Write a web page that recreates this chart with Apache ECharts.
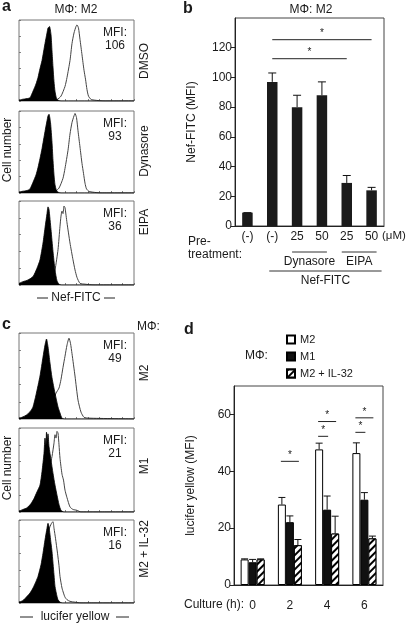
<!DOCTYPE html>
<html><head><meta charset="utf-8">
<script src="https://cdn.jsdelivr.net/npm/echarts@6/dist/echarts.min.js"></script>
<style>html,body{margin:0;padding:0;background:#fff}#c{width:408px;height:625px}</style>
</head><body><div id="c"></div>
<script>
// ===== Panel a: Nef-FITC histograms (x = channel 0-115, y = % of max) =====
const aLabels = ['DMSO', 'Dynasore', 'EIPA'];
const aMFI = ['106', '93', '36'];
const aFill1 = [[0,1],[3,2],[8,3],[11,4],[14,12],[17,21],[19,29],[21,40],[23,50],[26,71],[28,84],[29,90],[30.5,92],[32,82],[33,62],[34,42],[35,24],[36,12],[37.5,3],[39,1],[42,0],[115,0]];
const aOpen1 = [[30,2],[38,2],[42,6],[46,18],[48,29],[51,50],[53,71],[55,84],[57,92],[58,94],[59.5,90],[61,76],[63,57],[65,38],[66.5,27],[68,14],[69.5,6],[72,2],[76,1],[85,0],[115,0]];
const aFill2 = [[0,1],[3,2],[8,3],[11,5],[14,13],[17,22],[19,31],[21,42],[23,54],[26,75],[28,88],[29,94],[30,96],[31.5,86],[33,62],[34,40],[35,22],[36,10],[37.5,3],[39,1],[42,0],[115,0]];
const aOpen2 = [[30,2],[36,2],[40,6],[44,18],[46,30],[49,52],[51,72],[53,86],[55,94],[56,97],[57.5,92],[59,76],[61,56],[63,36],[64.5,24],[66,12],[67.5,5],[70,2],[74,1],[82,0],[115,0]];
const aFill3 = [[0,2],[4,4],[9,6],[14,10],[18,20],[21,30],[24,50],[26,68],[28,85],[29,93],[30,90],[32,66],[34,40],[36,18],[38,5],[40,1],[43,0],[115,0]];
const aOpen3 = [[30,2],[33,6],[36,18],[39,42],[41,70],[42,82],[43,88],[44,85],[45,94],[46,92],[48,74],[51,50],[54,30],[56,18],[58,9],[61,2],[66,1],[75,0],[115,0]];

// ===== Panel b: Nef-FITC uptake (MFI) =====
const bCategories = ['(-)', '(-)', '25', '50', '25', '50'];
const bValues = [9, 97, 80, 88, 29, 24];
const bErrTop = [9, 103, 88, 97, 34, 26];
const bTicks = [0, 20, 40, 60, 80, 100, 120];
const bSig = [[1, 5, 125.4], [1, 4, 112.6]];            // [fromCat, toCat, y]
const bGroups = [[2, 3, 'Dynasore', 1], [4, 5, 'EIPA', 1], [1, 5, 'Nef-FITC', 2]]; // [fromCat, toCat, label, level]

// ===== Panel c: lucifer yellow histograms =====
const cLabels = ['M2', 'M1', 'M2 + IL-32'];
const cMFI = ['49', '21', '16'];
const cFill1 = [[0,1],[3,2],[8,5],[12,10],[14,14],[17,28],[21,50],[24,72],[26,86],[27.5,93],[29,84],[31,65],[33,48],[36,30],[39,14],[41,7],[43,1],[46,0],[115,0]];
const cOpen1 = [[30,2],[34,20],[37,30],[40,36],[42,46],[44,60],[46,73],[48,86],[50,94],[51.5,88],[53,76],[56,50],[59,22],[62,8],[65,2],[70,1],[115,0]];
const cFill2 = [[0,1],[4,3],[8,5],[12,10],[15,16],[18,24],[21,32],[23,48],[25,70],[26,88],[27,80],[27.5,95],[28.5,85],[29,93],[30,78],[32,62],[34,46],[36,32],[38,20],[40,9],[42,2],[45,0],[115,0]];
const cOpen2 = [[28,40],[31,55],[33,66],[35,82],[36,92],[37,88],[38,96],[39,94],[40,80],[41,64],[43,45],[44.5,38],[46,26],[48,17],[51,6],[54,3],[58,2],[62,0],[115,0]];
const cFill3 = [[0,1],[4,3],[8,8],[11,12],[14,18],[17,26],[19,32],[22,46],[24,60],[26,76],[28,90],[29,96],[30,92],[32,72],[33,62],[35,34],[36,20],[38,8],[39,4],[41,1],[44,0],[115,0]];
const cOpen3 = [[26,60],[29,85],[31,92],[32.5,96],[34,98],[35,90],[36.5,78],[38.5,60],[40,45],[41,32],[43,18],[44.5,12],[46,7],[48,4],[51,2],[56,1],[62,0],[115,0]];

// ===== Panel d: lucifer yellow (MFI) vs culture time =====
const dCategories = ['0', '2', '4', '6'];
const dSeriesNames = ['M2', 'M1', 'M2 + IL-32'];
const dM2 = [9, 28.3, 47.7, 46.4];
const dM2Err = [9.2, 30.8, 49.9, 50];
const dM1 = [8, 22.1, 26.5, 30];
const dM1Err = [9, 24.3, 31.3, 32.5];
const dIL = [9, 14, 18.1, 16.4];
const dILErr = [9.2, 16, 24.2, 17.2];
const dTicks = [0, 20, 40, 60];
const dSig = [[1, 0, 2, 43.5], [2, 0, 1, 52.3], [2, 0, 2, 57.5], [3, 0, 1, 53.7], [3, 0, 2, 58.8]]; // [group, fromSeries, toSeries, y]

// ================= rendering =================
const FONT = '"Liberation Sans", Arial, Helvetica, sans-serif';
const TXT = '#1a1a1a';
const chart = echarts.init(document.getElementById('c'), null, {renderer: 'canvas'});

const histPanels = [
  {top: 20, h: 81, fill: aFill1, open: aOpen1},
  {top: 111, h: 82, fill: aFill2, open: aOpen2},
  {top: 201, h: 84, fill: aFill3, open: aOpen3},
  {top: 333, h: 86, fill: cFill1, open: cOpen1},
  {top: 428, h: 84, fill: cFill2, open: cOpen2},
  {top: 520, h: 83, fill: cFill3, open: cOpen3}
];
const HL = 19, HW = 115;

const grids = [], xAxes = [], yAxes = [], series = [], graphics = [];

histPanels.forEach((p, i) => {
  grids.push({left: HL, top: p.top, width: HW, height: p.h, show: true, borderColor: '#777', borderWidth: 1, backgroundColor: '#fff'});
  xAxes.push({gridIndex: i, type: 'value', min: 0, max: 115, interval: 11.5,
    axisLine: {show: false}, axisTick: {show: true, inside: true, length: 2, lineStyle: {color: '#666', width: 0.8}},
    axisLabel: {show: false}, splitLine: {show: false}});
  yAxes.push({gridIndex: i, type: 'value', min: 0, max: 100, interval: 20,
    axisLine: {show: false}, axisTick: {show: true, inside: true, length: 2, lineStyle: {color: '#666', width: 0.8}},
    axisLabel: {show: false}, splitLine: {show: false}});
  series.push({type: 'line', xAxisIndex: i, yAxisIndex: i, data: p.open, symbol: 'none', smooth: 0.2,
    lineStyle: {color: '#444', width: 1}, silent: true, z: 2});
  series.push({type: 'line', xAxisIndex: i, yAxisIndex: i, data: p.fill, symbol: 'none', smooth: 0.2,
    lineStyle: {color: '#000', width: 0.8}, areaStyle: {color: '#000', opacity: 1}, silent: true, z: 3});
});

// ---- panel b grid (index 6)
grids.push({left: 235, top: 18, width: 149, height: 208, show: true, borderColor: '#444', borderWidth: 1});
xAxes.push({gridIndex: 6, type: 'category', data: bCategories,
  axisLine: {show: true, lineStyle: {color: '#222', width: 1}}, axisTick: {show: false},
  axisLabel: {fontSize: 12, fontFamily: FONT, color: TXT, margin: 5}});
yAxes.push({gridIndex: 6, type: 'value', min: 0, max: 140, interval: 20,
  name: 'Nef-FITC (MFI)', nameLocation: 'middle', nameGap: 37, nameTextStyle: {fontSize: 12, fontFamily: FONT, color: TXT},
  axisLine: {show: true, lineStyle: {color: '#222', width: 1}},
  axisTick: {show: true, length: 4, customValues: bTicks, lineStyle: {color: '#222'}},
  axisLabel: {fontSize: 12, fontFamily: FONT, color: TXT, margin: 3, customValues: bTicks,
    formatter: v => (bTicks.indexOf(v) >= 0 ? String(v) : '')},
  splitLine: {show: false}});

// ---- panel d grid (index 7)
grids.push({left: 234, top: 386, width: 149, height: 199, show: true, borderColor: '#444', borderWidth: 1});
xAxes.push({gridIndex: 7, type: 'category', data: dCategories,
  axisLine: {show: true, lineStyle: {color: '#222', width: 1}}, axisTick: {show: false},
  axisLabel: {fontSize: 12, fontFamily: FONT, color: TXT, margin: 15}});
yAxes.push({gridIndex: 7, type: 'value', min: 0, max: 70, interval: 10,
  name: 'lucifer yellow (MFI)', nameLocation: 'middle', nameGap: 37, nameTextStyle: {fontSize: 12, fontFamily: FONT, color: TXT},
  axisLine: {show: true, lineStyle: {color: '#222', width: 1}},
  axisTick: {show: true, length: 4, customValues: dTicks, lineStyle: {color: '#222'}},
  axisLabel: {fontSize: 12, fontFamily: FONT, color: TXT, margin: 3, customValues: dTicks,
    formatter: v => (dTicks.indexOf(v) >= 0 ? String(v) : '')},
  splitLine: {show: false}});

// ---- panel b series
series.push({type: 'bar', xAxisIndex: 6, yAxisIndex: 6, data: bValues, barWidth: 10.5,
  itemStyle: {color: '#1b1b1b'}, silent: true, z: 2});
series.push({type: 'custom', xAxisIndex: 6, yAxisIndex: 6, silent: true, z: 3,
  data: bValues.map((v, i) => [i, v, bErrTop[i]]),
  renderItem: (params, api) => {
    const b = api.coord([api.value(0), api.value(1)]);
    const t = api.coord([api.value(0), api.value(2)]);
    return {type: 'group', children: [
      {type: 'line', shape: {x1: b[0], y1: b[1], x2: t[0], y2: t[1]}, style: {stroke: '#111', lineWidth: 1}},
      {type: 'line', shape: {x1: t[0] - 4, y1: t[1], x2: t[0] + 4, y2: t[1]}, style: {stroke: '#111', lineWidth: 1}}
    ]};
  }});
series.push({type: 'custom', xAxisIndex: 6, yAxisIndex: 6, silent: true, z: 3, data: bSig,
  renderItem: (params, api) => {
    const p1 = api.coord([api.value(0), api.value(2)]);
    const p2 = api.coord([api.value(1), api.value(2)]);
    return {type: 'group', children: [
      {type: 'line', shape: {x1: p1[0], y1: p1[1], x2: p2[0], y2: p2[1]}, style: {stroke: '#222', lineWidth: 1}},
      {type: 'text', x: (p1[0] + p2[0]) / 2, y: p1[1] - 1, style: {text: '*', fontSize: 10, fontFamily: FONT, fill: TXT, align: 'center', verticalAlign: 'bottom'}}
    ]};
  }});
series.push({type: 'custom', xAxisIndex: 6, yAxisIndex: 6, silent: true, z: 3, clip: false,
  data: bGroups,
  renderItem: (params, api) => {
    const item = bGroups[params.dataIndex];
    const p1 = api.coord([item[0], 0]);
    const p2 = api.coord([item[1], 0]);
    const lvl = item[3];
    const y = p1[1] + (lvl === 1 ? 26 : 45);
    const x1 = p1[0] - (lvl === 1 ? 5 : 3);
    const x2 = p2[0] + (lvl === 1 ? 5 : 10);
    return {type: 'group', children: [
      {type: 'line', shape: {x1: x1, y1: y, x2: x2, y2: y}, style: {stroke: '#333', lineWidth: 1}},
      {type: 'text', x: (x1 + x2) / 2, y: y + 10, style: {text: item[2], fontSize: 12, fontFamily: FONT, fill: TXT, align: 'center', verticalAlign: 'middle'}}
    ]};
  }});

// ---- panel d series
const hatch = {symbol: 'rect', symbolSize: 1, dashArrayX: [1, 0], dashArrayY: [1.3, 2.7], rotation: -Math.PI / 4, color: '#000', backgroundColor: '#fff'};
const dStyles = [
  {color: '#fff', borderColor: '#000', borderWidth: 1},
  {color: '#111', borderColor: '#000', borderWidth: 1},
  {color: '#fff', borderColor: '#000', borderWidth: 1, decal: hatch}
];
const dVals = [dM2, dM1, dIL];
const dErrs = [dM2Err, dM1Err, dILErr];
const BW = 8;
dSeriesNames.forEach((n, k) => {
  series.push({name: n, type: 'bar', xAxisIndex: 7, yAxisIndex: 7, data: dVals[k], barWidth: BW, barGap: '0%',
    itemStyle: dStyles[k], silent: true, z: 2});
});
dSeriesNames.forEach((n, k) => {
  const off = (k - 1) * BW;
  series.push({type: 'custom', xAxisIndex: 7, yAxisIndex: 7, silent: true, z: 3,
    data: dVals[k].map((v, i) => [i, v, dErrs[k][i]]),
    renderItem: (params, api) => {
      const b = api.coord([api.value(0), api.value(1)]);
      const t = api.coord([api.value(0), api.value(2)]);
      const x = b[0] + off;
      return {type: 'group', children: [
        {type: 'line', shape: {x1: x, y1: b[1], x2: x, y2: t[1]}, style: {stroke: '#111', lineWidth: 1}},
        {type: 'line', shape: {x1: x - 3.5, y1: t[1], x2: x + 3.5, y2: t[1]}, style: {stroke: '#111', lineWidth: 1}}
      ]};
    }});
});
series.push({type: 'custom', xAxisIndex: 7, yAxisIndex: 7, silent: true, z: 3, data: dSig,
  renderItem: (params, api) => {
    const p = api.coord([api.value(0), api.value(3)]);
    const x1 = p[0] + (api.value(1) - 1) * BW - 1;
    const x2 = p[0] + (api.value(2) - 1) * BW + 1;
    return {type: 'group', children: [
      {type: 'line', shape: {x1: x1, y1: p[1], x2: x2, y2: p[1]}, style: {stroke: '#222', lineWidth: 1}},
      {type: 'text', x: (x1 + x2) / 2, y: p[1] - 1, style: {text: '*', fontSize: 10, fontFamily: FONT, fill: TXT, align: 'center', verticalAlign: 'bottom'}}
    ]};
  }});

// ---- texts
function T(text, x, y, opts) {
  opts = opts || {};
  graphics.push({type: 'text', x: x, y: y, rotation: opts.rot || 0, silent: true,
    style: {text: text, fontSize: opts.size || 12, fontWeight: opts.bold ? 'bold' : 'normal', fontFamily: FONT,
      fill: TXT, align: opts.align || 'center', verticalAlign: 'middle'}});
}
function L(x1, y1, x2, y2) {
  graphics.push({type: 'line', silent: true, shape: {x1: x1, y1: y1, x2: x2, y2: y2}, style: {stroke: '#222', lineWidth: 1}});
}
// panel letters
T('a', 2, 7, {bold: true, size: 16, align: 'left'});
T('b', 183, 9, {bold: true, size: 16, align: 'left'});
T('c', 2, 325, {bold: true, size: 16, align: 'left'});
T('d', 184, 330, {bold: true, size: 16, align: 'left'});
// a
T('MΦ: M2', 76, 10);
histPanels.forEach((p, i) => {
  const mfi = i < 3 ? aMFI[i] : cMFI[i - 3];
  T('MFI:', 115, p.top + 12.5);
  T(mfi, 115, p.top + 25.5);
});
const aLabelY = [61, 151, 222];
aLabels.forEach((s, i) => T(s, 145, aLabelY[i], {rot: Math.PI / 2}));
T('Cell number', 8, 150, {rot: Math.PI / 2});
T('Nef-FITC', 76, 298);
L(37, 298, 48, 298); L(104, 298, 115, 298);
// c
T('MΦ:', 137, 327, {align: 'left'});
const cLabelY = [373, 466, 549];
cLabels.forEach((s, i) => T(s, 145, cLabelY[i], {rot: Math.PI / 2}));
T('Cell number', 8, 468, {rot: Math.PI / 2});
T('lucifer yellow', 75, 617);
L(20, 617, 33, 617); L(116, 617, 129, 617);
// b
T('MΦ: M2', 311, 10);
T('(μM)', 382, 236, {align: 'left', size: 11.5});
T('Pre-', 188, 242, {align: 'left'});
T('treatment:', 188, 255, {align: 'left'});
// d
T('MΦ:', 245, 356, {align: 'left'});
T('Culture (h):', 244, 605, {align: 'right'});

chart.setOption({
  animation: false,
  backgroundColor: '#fff',
  textStyle: {fontFamily: FONT},
  grid: grids, xAxis: xAxes, yAxis: yAxes, series: series,
  legend: {data: dSeriesNames, orient: 'vertical', left: 281, top: 329, itemWidth: 8, itemHeight: 8, itemGap: 6,
    icon: 'rect', selectedMode: false,
    textStyle: {fontSize: 11, fontFamily: FONT, color: TXT}},
  graphic: graphics
});
</script>
</body></html>
